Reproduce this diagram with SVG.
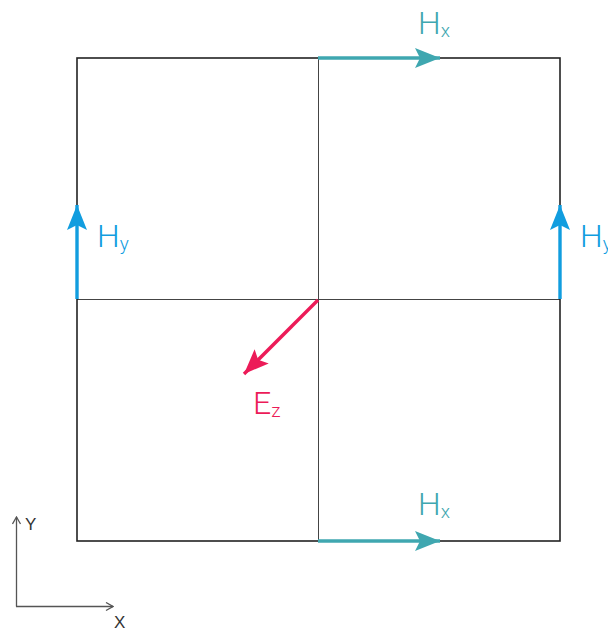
<svg xmlns="http://www.w3.org/2000/svg" width="608" height="635" viewBox="0 0 608 635">
<style>
.grid{fill:none;stroke:#444;stroke-width:1}
.outer{fill:none;stroke:#222;stroke-width:1.6}
.lbl{font-family:Roboto,"Liberation Sans",sans-serif;font-weight:300;font-size:32px}
.sub{font-size:19px}
.hx{fill:#3fa7b0}
.hy{fill:#119ddf}
.ez{fill:#ec1b58}
.ax{font-family:"Liberation Sans",sans-serif;font-size:17px;fill:#333}
</style>
<defs>
<marker id="mhx" viewBox="0 0 25 20" refX="25" refY="10" markerWidth="25" markerHeight="20" markerUnits="userSpaceOnUse" orient="auto"><path d="M0,0 L25,10 L0,20 L5,10 Z" fill="#3fa7b0"/></marker>
<marker id="mhy" viewBox="0 0 25 20" refX="25" refY="10" markerWidth="25" markerHeight="20" markerUnits="userSpaceOnUse" orient="auto"><path d="M0,0 L25,10 L0,20 L5,10 Z" fill="#119ddf"/></marker>
<marker id="mez" viewBox="0 0 25 20" refX="25" refY="10" markerWidth="25" markerHeight="20" markerUnits="userSpaceOnUse" orient="auto"><path d="M0,0 L25,10 L0,20 L5,10 Z" fill="#ec1b58"/></marker>
<marker id="max" viewBox="0 0 10 10" refX="9" refY="5" markerWidth="10" markerHeight="10" markerUnits="userSpaceOnUse" orient="auto"><path d="M2,1 L9,5 L2,9" fill="none" stroke="#555" stroke-width="1.3"/></marker>
</defs>
<g id="grid">
<line class="grid" x1="318.5" y1="58" x2="318.5" y2="541"/>
<line class="grid" x1="77" y1="299.5" x2="560" y2="299.5"/>
<rect class="outer" x="77" y="58" width="483" height="483"/>
</g>
<g id="connectors">
<line x1="318" y1="58" x2="440" y2="58" stroke="#3fa7b0" stroke-width="3.4" marker-end="url(#mhx)"/>
<line x1="318" y1="541" x2="440" y2="541" stroke="#3fa7b0" stroke-width="3.4" marker-end="url(#mhx)"/>
<line x1="77" y1="299" x2="77" y2="205" stroke="#119ddf" stroke-width="3.4" marker-end="url(#mhy)"/>
<line x1="560" y1="299" x2="560" y2="205" stroke="#119ddf" stroke-width="3.4" marker-end="url(#mhy)"/>
<line x1="318" y1="300" x2="244" y2="374" stroke="#ec1b58" stroke-width="3.4" marker-end="url(#mez)"/>
<line x1="16.5" y1="606.5" x2="16.5" y2="517" stroke="#555" stroke-width="1.3" marker-end="url(#max)"/>
<line x1="16" y1="606.5" x2="113" y2="606.5" stroke="#555" stroke-width="1.3" marker-end="url(#max)"/>
</g>
<g id="label-hx-top"><text class="lbl hx" x="418" y="34">H<tspan class="sub" dy="3">x</tspan></text></g>
<g id="label-hx-bottom"><text class="lbl hx" x="418" y="515">H<tspan class="sub" dy="3">x</tspan></text></g>
<g id="label-hy-left"><text class="lbl hy" x="97" y="247">H<tspan class="sub" dy="3">y</tspan></text></g>
<g id="label-hy-right"><text class="lbl hy" x="580" y="247">H<tspan class="sub" dy="3">y</tspan></text></g>
<g id="label-ez"><text class="lbl ez" x="253" y="414">E<tspan class="sub" dy="3">z</tspan></text></g>
<g id="axis-labels">
<text class="ax" x="25" y="530">Y</text>
<text class="ax" x="114" y="628">X</text>
</g>
</svg>
